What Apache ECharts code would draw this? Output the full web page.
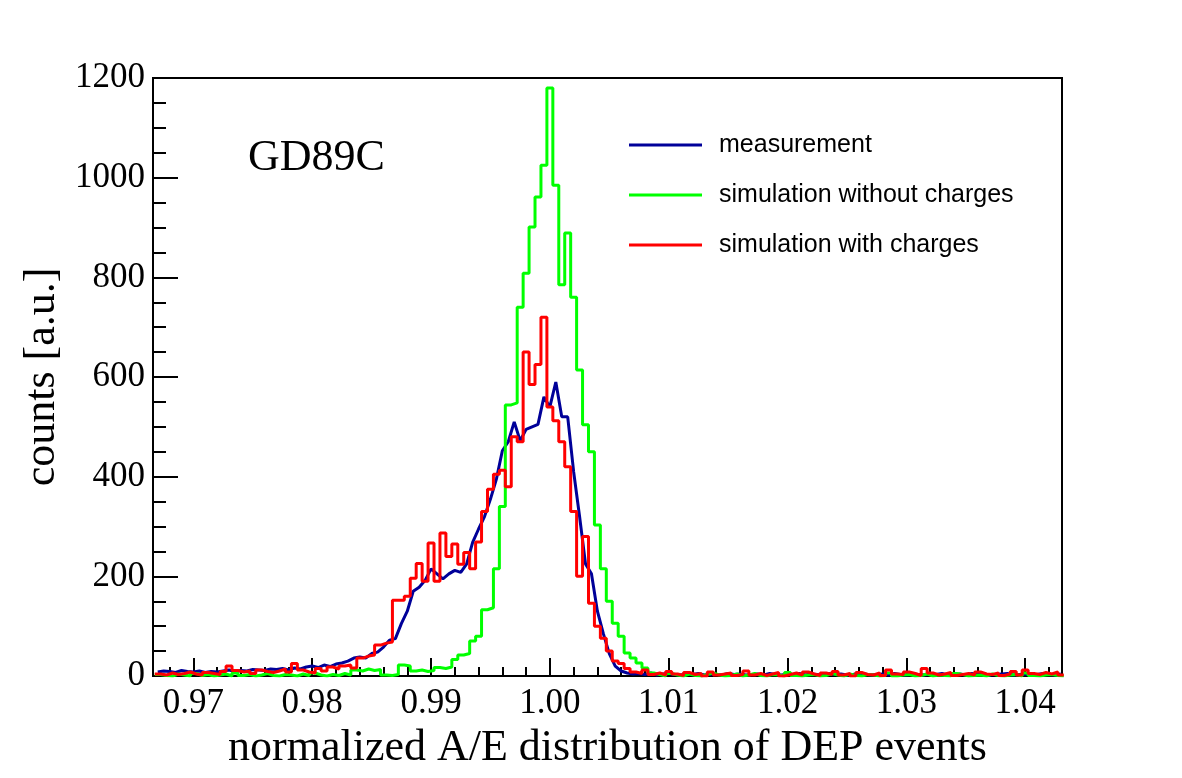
<!DOCTYPE html>
<html>
<head>
<meta charset="utf-8">
<script src="https://cdn.jsdelivr.net/npm/echarts@6/dist/echarts.min.js"></script>
<style>
html,body{margin:0;padding:0;background:#fff;}
#chart{width:1182px;height:778px;}
</style>
</head>
<body>
<div id="chart"></div>
<script>
// histogram binning: 153 bins of 0.0005 starting at 0.96675
var bin_start = 0.96675;
var bin_width = 0.0005;
var x_labels = [0.97, 0.98, 0.99, 1.00, 1.01, 1.02, 1.03, 1.04];

var measurement = [
	8, 10, 9, 7, 11, 9, 8, 10, 7, 9,
	8, 10, 12, 9, 11, 10, 13, 12, 11, 14,
	13, 15, 12, 16, 14, 18, 20, 17, 22, 19,
	24, 26, 30, 36, 38, 36, 45, 48, 58, 72,
	75, 105, 130, 170, 178, 192, 215, 205, 195, 205,
	212, 208, 225, 268, 295, 320, 355, 395, 452, 470,
	510, 472, 495, 500, 505, 560, 540, 590, 520, 520,
	410, 320, 225, 205, 130, 85, 45, 20, 10, 6,
	4, 5, 3, 6, 2, 4, 5, 3, 2, 4,
	3, 5, 2, 4, 3, 2, 5, 3, 4, 2,
	3, 4, 2, 5, 3, 2, 4, 3, 5, 2,
	4, 3, 2, 5, 3, 4, 2, 3, 5, 4,
	2, 3, 4, 2, 5, 3, 2, 4, 3, 2,
	4, 3, 5, 2, 3, 4, 2, 5, 3, 4,
	2, 3, 4, 5, 2, 3, 4, 2, 3, 5,
	3, 2, 4
];

var sim_no_charges = [
	3, 1, 0, 4, 2, 0, 5, 1, 3, 0,
	2, 4, 0, 6, 1, 3, 0, 2, 5, 1,
	0, 3, 2, 0, 4, 1, 6, 2, 0, 3,
	1, 5, 2, 12, 10, 14, 11, 13, 2, 1,
	3, 22, 20, 10, 12, 9, 11, 17, 15, 18,
	33, 42, 45, 70, 80, 133, 137, 215, 340, 544,
	548, 740, 808, 901, 961, 1025, 1180, 985, 785, 889,
	760, 614, 504, 450, 303, 215, 150, 106, 80, 46,
	36, 26, 16, 6, 3, 0, 5, 2, 0, 4,
	1, 0, 3, 6, 2, 0, 1, 4, 0, 2,
	5, 1, 0, 3, 2, 0, 7, 1, 0, 2,
	3, 0, 1, 5, 2, 0, 4, 1, 0, 3,
	2, 0, 1, 6, 0, 2, 3, 0, 1, 4,
	0, 2, 1, 0, 5, 3, 0, 1, 2, 0,
	4, 1, 0, 2, 3, 0, 6, 1, 0, 2,
	3, 1, 0
];

var sim_charges = [
	4, 2, 6, 3, 5, 8, 4, 2, 7, 5,
	3, 9, 20, 11, 8, 10, 5, 12, 9, 7,
	10, 14, 8, 25, 12, 8, 6, 15, 10, 18,
	14, 20, 22, 16, 36, 40, 42, 62, 66, 68,
	152, 152, 160, 196, 226, 190, 267, 190, 287, 240,
	265, 224, 248, 215, 269, 330, 375, 405, 413, 380,
	480, 470, 650, 585, 625, 720, 540, 512, 470, 420,
	330, 200, 280, 146, 100, 76, 50, 30, 25, 15,
	8, 5, 12, 3, 6, 2, 9, 4, 1, 7,
	3, 5, 0, 8, 2, 4, 6, 1, 3, 10,
	2, 5, 1, 4, 7, 0, 3, 6, 2, 8,
	4, 1, 6, 3, 9, 2, 5, 0, 7, 3,
	2, 6, 1, 12, 4, 3, 8, 5, 1, 15,
	6, 2, 4, 7, 1, 3, 5, 2, 8, 4,
	3, 6, 1, 4, 9, 2, 12, 5, 3, 7,
	4, 8, 2
];

// axis range a hair wider than the histogram range
var x_min = 0.96660;
var x_max = 1.04310;

// step outline: one point per bin low edge, plus the last high edge
function hist_points(values){
	var pts = [];
	for(var i = 0; i < values.length; i++){
		pts.push([bin_start + i * bin_width, values[i]]);
	}
	pts.push([bin_start + values.length * bin_width, values[values.length - 1]]);
	return pts;
}

// polyline through bin centres
function center_points(values){
	var pts = [];
	for(var i = 0; i < values.length; i++){
		pts.push([bin_start + (i + 0.5) * bin_width, values[i]]);
	}
	return pts;
}

var x_minor = [];
for(var k = 0; k < x_labels.length; k++){
	for(var m = -2; m <= 4; m++){
		var v = Math.round((x_labels[k] + m * 0.002) * 1000) / 1000;
		if(v > x_min && v < x_max && x_minor.indexOf(v) < 0) x_minor.push(v);
	}
}

var serif = '"Liberation Serif", "Times New Roman", serif';
var sans = '"Liberation Sans", Arial, sans-serif';

var myChart = echarts.init(document.getElementById('chart'), null, {renderer: 'canvas'});

myChart.setOption({
	animation: false,
	backgroundColor: '#fff',
	title: {
		text: 'GD89C',
		left: 248,
		top: 136,
		padding: 0,
		textStyle: {fontFamily: serif, fontSize: 44, fontWeight: 'normal', color: '#000'}
	},
	legend: {
		orient: 'vertical',
		left: 624,
		top: 127,
		itemGap: 24,
		itemWidth: 73,
		itemHeight: 3,
		icon: 'rect',
		textStyle: {fontFamily: sans, fontSize: 25, color: '#000', lineHeight: 26, padding: [0, 0, 0, 12]},
		data: ['measurement', 'simulation without charges', 'simulation with charges']
	},
	grid: {
		left: 153, top: 78, width: 909, height: 598,
		show: true, borderColor: '#000', borderWidth: 2,
		containLabel: false
	},
	xAxis: [{
		type: 'value',
		min: x_min, max: x_max,
		name: 'normalized A/E distribution of DEP events',
		nameLocation: 'middle',
		nameGap: 50,
		nameTextStyle: {fontFamily: serif, fontSize: 44, color: '#000'},
		axisLine: {show: true, lineStyle: {color: '#000', width: 2}},
		axisTick: {show: true, inside: true, length: 18, lineStyle: {color: '#000', width: 2}, customValues: x_labels},
		axisLabel: {
			margin: 10, fontFamily: serif, fontSize: 35, color: '#000',
			customValues: x_labels,
			formatter: function(v){ return v.toFixed(2); }
		},
		splitLine: {show: false}
	}, {
		type: 'value',
		position: 'bottom',
		min: x_min, max: x_max,
		axisLine: {show: false},
		axisTick: {show: true, inside: true, length: 9, lineStyle: {color: '#000', width: 2}, customValues: x_minor},
		axisLabel: {show: false},
		splitLine: {show: false}
	}],
	yAxis: {
		type: 'value',
		min: 0, max: 1200, interval: 200,
		name: 'counts [a.u.]',
		nameLocation: 'middle',
		nameGap: 89,
		nameRotate: 90,
		nameTextStyle: {fontFamily: serif, fontSize: 44, color: '#000'},
		axisLine: {show: true, lineStyle: {color: '#000', width: 2}},
		axisTick: {show: true, inside: true, length: 25, lineStyle: {color: '#000', width: 2}},
		minorTick: {show: true, splitNumber: 4, length: 13, lineStyle: {color: '#000', width: 2}},
		axisLabel: {
			margin: 8, fontFamily: serif, fontSize: 35, color: '#000',
			formatter: function(v){ return String(v); }
		},
		splitLine: {show: false}
	},
	series: [{
		name: 'measurement',
		type: 'line',
		data: center_points(measurement),
		showSymbol: false,
		color: '#000099',
		lineStyle: {width: 3, color: '#000099'}
	}, {
		name: 'simulation without charges',
		type: 'line',
		step: 'end',
		data: hist_points(sim_no_charges),
		showSymbol: false,
		color: '#00ff00',
		lineStyle: {width: 3, color: '#00ff00'}
	}, {
		name: 'simulation with charges',
		type: 'line',
		step: 'end',
		data: hist_points(sim_charges),
		showSymbol: false,
		color: '#ff0000',
		lineStyle: {width: 3, color: '#ff0000'}
	}]
});
</script>
</body>
</html>
